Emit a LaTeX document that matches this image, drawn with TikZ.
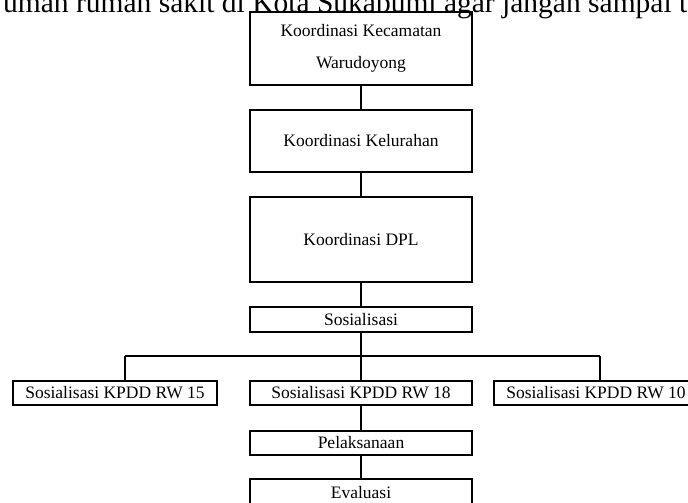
\documentclass[tikz,border=0pt]{standalone}
\usepackage{fontspec}
\setmainfont{Liberation Serif}
\begin{document}
\begin{tikzpicture}[x=1pt,y=-1pt,
  box/.style={draw, line width=1.7pt, inner sep=0pt, align=center,
    font=\fontsize{17.5}{32}\selectfont},
  conn/.style={line width=1.4pt},
  thick conn/.style={line width=1.8pt}]
\useasboundingbox (0,0) rectangle (688,503);
\node[anchor=base west, inner sep=0pt, font=\fontsize{29.5}{29.5}\selectfont] (head) at (3,12.5)
  {umah rumah sakit di Kota Sukabumi agar jangan sampai t};
\node[box, minimum width=222pt, minimum height=73pt] (k1) at (361,48.5)
  {Koordinasi Kecamatan\\Warudoyong};
\node[box, minimum width=222pt, minimum height=62pt] (k2) at (361,141) {Koordinasi Kelurahan};
\node[box, minimum width=222pt, minimum height=85pt] (k3) at (361,239.5) {Koordinasi DPL};
\node[box, minimum width=222pt, minimum height=25pt] (sos) at (361,319.5) {Sosialisasi};
\node[box, minimum width=204pt, minimum height=24pt] (rw15) at (115,393) {Sosialisasi KPDD RW 15};
\node[box, minimum width=222pt, minimum height=24pt] (rw18) at (361,393) {Sosialisasi KPDD RW 18};
\node[box, minimum width=204pt, minimum height=24pt] (rw10) at (596,393) {Sosialisasi KPDD RW 10};
\node[box, minimum width=222pt, minimum height=24pt] (pel) at (361,443) {Pelaksanaan};
\node[box, minimum width=222pt, minimum height=28pt] (eva) at (361,493) {Evaluasi};
\coordinate (hL) at (125,356);
\coordinate (hR) at (600,356);
\draw[conn] (k1) -- (k2);
\draw[conn] (k2) -- (k3);
\draw[conn] (k3) -- (sos);
\draw[thick conn] (sos) -- (rw18);
\draw[thick conn] (hL) -- (hR);
\draw[thick conn] (hL) -- (hL |- rw15.north);
\draw[thick conn] (hR) -- (hR |- rw10.north);
\draw[thick conn] (rw18) -- (pel);
\draw[thick conn] (pel) -- (eva);
\end{tikzpicture}
\end{document}
